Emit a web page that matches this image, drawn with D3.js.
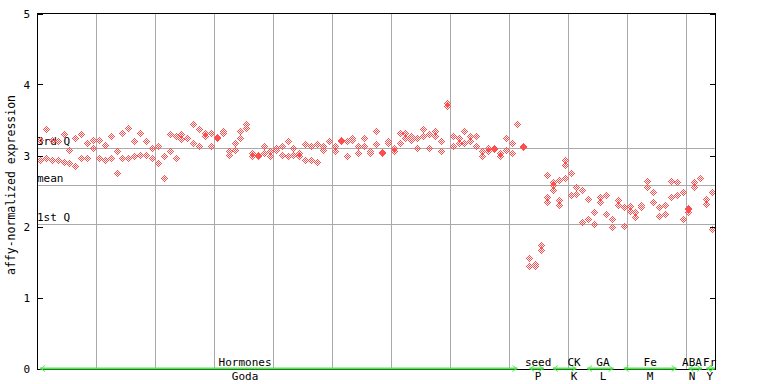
<!DOCTYPE html>
<html><head><meta charset="utf-8">
<script src="https://cdn.jsdelivr.net/npm/d3@7"></script>
<style>
body{margin:0;background:#fff}
text{font-family:"DejaVu Sans Mono",monospace;font-size:11px;fill:#000}
</style>
</head><body>
<svg id="c" width="768" height="384" shape-rendering="crispEdges"></svg>
<script>
// ---- data ----
const yTicks = [0, 1, 2, 3, 4, 5];
const hormonesVals = [
 [3.22,2.94],[3.38,2.97],[3.22,2.93],[3.21,2.93],[3.30,2.91],[3.08,2.89],[3.24,2.85],[3.30,2.96],[3.17,2.97],[3.22,3.10],
 [3.22,2.97],[3.15,2.93],[3.27,2.96],[3.07,2.75],[3.31,2.96],[3.39,2.96],[3.20,3.00],[3.31,3.01],[3.21,3.01],[3.10,2.97],
 [3.14,2.89],[3.00,2.68],[3.30,3.06],[3.28,2.96],[3.30,3.23],[3.24],[3.44,3.18],[3.38,3.13],[3.32,3.27],[3.31,3.14],
 [3.26,3.24],[3.35,3.31],[3.07,3.01],[3.17,3.08],[3.34,3.24],[3.44,3.39],[3.03,2.99],[3.01,2.99],[3.14,3.03],[3.07,3.00],
 [3.11,3.08],[3.14,3.01],[3.20,3.00],[3.11,3.01],[3.03,2.99],[3.155,2.94],[3.14,2.94],[3.155,2.915],[3.14,3.08],[3.21],
 [3.14,3.07],[3.22,3.20],[3.20,2.99],[3.24,3.22],[3.13,3.04],[3.24,3.13],[3.06,3.03],[3.34,3.155],[3.05,3.03],[3.20,3.17],
 [3.10,3.06],[3.31,3.18],[3.31,3.24],[3.28,3.22],[3.25,3.11],[3.37,3.27],[3.30,3.10],[3.35,3.27],[3.21,3.07],[3.746,3.70],
 [3.28,3.14],[3.25,3.17],[3.34,3.18],[3.28,3.20],[3.28,3.14],[3.06,2.99],[3.11,3.07],[3.11,3.09],[3.04,2.99],[3.24,3.08],
 [3.17,3.03],[3.45]
];
const seedVals = [[3.14,3.12],[1.55,1.45],[1.47,1.45],[1.74,1.67],[2.73,2.41,2.34]];
const ckVals = [[2.62,2.58,2.52],[2.66,2.38,2.30],[2.94,2.86,2.69],[2.75,2.45],[2.56,2.55,2.46]];
const gaVals = [[2.51,2.06],[2.39,2.10],[2.20,2.04],[2.41,2.34],[2.44,2.18],[2.11,1.99],[2.38,2.30]];
const feVals = [[2.27,2.01],[2.29,2.22],[2.20,2.13],[2.30,2.28],[2.64,2.56],[2.48,2.35],[2.28,2.15],[2.30,2.18],[2.64,2.41],[2.62,2.44],[2.48,2.11]];
const abaVals = [[2.26,2.24,2.21],[2.62,2.55],[2.68]];
const frVals = [[2.39,2.32],[2.48,1.97]];

const groupNames   = ["Hormones","seed","CK","GA","Fe","ABA","Fr"];
const groupSources = ["Goda","P","K","L","M","N","Y"];
const groupFrom    = [0, 83, 87, 92.8, 99, 110, 113];
const groupTo      = [81, 85.5, 91, 97.3, 108, 112.3, 114.5];
const groupLabelAt = [34.8, 84.5, 90.6, 95.5, 103.5, 110.6, 113.6];

const refNames  = ["3rd Q","mean","1st Q"];
const refValues = [3.10, 2.58, 2.03];
const yTitle = "affy-normalized expression";

// ---- build ----
const columns = [].concat(hormonesVals, seedVals, ckVals, gaVals, feVals, abaVals, frVals);
const points = [];
columns.forEach((vals, i) => vals.forEach(v => points.push({i, v})));

const svg = d3.select("#c");
const L = 37, R = 715, T = 13.5, B = 368.5;
const x = d3.scaleLinear().domain([-0.5, columns.length - 0.5]).range([L, R]);
const y = d3.scaleLinear().domain([0, 5]).range([B, T]);
const red = "#ff4d4d", grid = "#a9a9a9", green = "#4fe84f";

// dotted diamond glyph (pixel offsets)
let glyph = "";
for (let dy = -3; dy <= 3; dy++)
  for (let dx = -3; dx <= 3; dx++)
    if (Math.abs(dx) + Math.abs(dy) <= 3 && Math.abs(dx + dy) % 2 === 1)
      glyph += `M${dx},${dy}h1v1h-1z`;

// vertical gridlines every 10 samples
const vgrid = d3.range(9.5, columns.length - 1, 10);
svg.append("g").selectAll("line").data(vgrid).join("line")
  .attr("x1", d => Math.round(x(d)) + 0.5).attr("x2", d => Math.round(x(d)) + 0.5)
  .attr("y1", T).attr("y2", B + 1)
  .attr("stroke", grid).attr("stroke-width", 1);

// reference lines
svg.append("g").selectAll("line").data(refValues).join("line")
  .attr("x1", L).attr("x2", R)
  .attr("y1", d => Math.round(y(d)) + 0.5).attr("y2", d => Math.round(y(d)) + 0.5)
  .attr("stroke", grid).attr("stroke-width", 1);
svg.append("g").attr("shape-rendering", "auto").selectAll("text").data(refValues).join("text")
  .attr("x", L).attr("y", d => Math.round(y(d)) - 3)
  .text((d, k) => refNames[k]);

// points
svg.append("g").selectAll("path").data(points).join("path")
  .attr("transform", d => `translate(${Math.round(x(d.i))},${Math.round(y(d.v))})`)
  .attr("d", glyph)
  .attr("fill", red).attr("stroke", "none");

// frame
svg.append("rect").attr("x", L + 0.5).attr("y", T).attr("width", R - L).attr("height", B - T + 1)
  .attr("fill", "none").attr("stroke", "#000").attr("stroke-width", 1);

// y axis ticks (inward) and labels
svg.append("g").selectAll("line").data(yTicks).join("line")
  .attr("x1", L).attr("x2", L + 6)
  .attr("y1", d => Math.round(y(d)) + 0.5).attr("y2", d => Math.round(y(d)) + 0.5).attr("stroke", "#000");
svg.append("g").selectAll("line").data(yTicks).join("line")
  .attr("x1", R - 5).attr("x2", R)
  .attr("y1", d => Math.round(y(d)) + 0.5).attr("y2", d => Math.round(y(d)) + 0.5).attr("stroke", "#000");
svg.append("g").selectAll("text").data(yTicks).join("text")
  .attr("x", 30).attr("y", d => y(d) + 4).attr("text-anchor", "end")
  .text(d => d);

svg.append("text").attr("transform", `translate(15,${(T + B) / 2 - 6}) rotate(-90)`)
  .attr("text-anchor", "middle").style("font-size", "11.5px").text(yTitle);

// group lines with arrows
const gy = B;
const gg = svg.append("g").attr("shape-rendering", "auto");
groupNames.forEach((name, k) => {
  const x1 = x(groupFrom[k]), x2 = x(groupTo[k]);
  gg.append("line").attr("x1", x1).attr("x2", x2).attr("y1", gy).attr("y2", gy)
    .attr("stroke", green).attr("stroke-width", 2);
  gg.append("path").attr("d", `M${x1 + 5},${gy - 3}L${x1 + 1},${gy}L${x1 + 5},${gy + 3}`)
    .attr("fill", "none").attr("stroke", green).attr("stroke-width", 1);
  gg.append("path").attr("d", `M${x2 - 5},${gy - 3}L${x2 - 1},${gy}L${x2 - 5},${gy + 3}`)
    .attr("fill", "none").attr("stroke", green).attr("stroke-width", 1);
  svg.append("text").attr("x", x(groupLabelAt[k])).attr("y", 366).attr("text-anchor", "middle").text(name);
  svg.append("text").attr("x", x(groupLabelAt[k])).attr("y", 380).attr("text-anchor", "middle").text(groupSources[k]);
});
</script>
</body></html>
